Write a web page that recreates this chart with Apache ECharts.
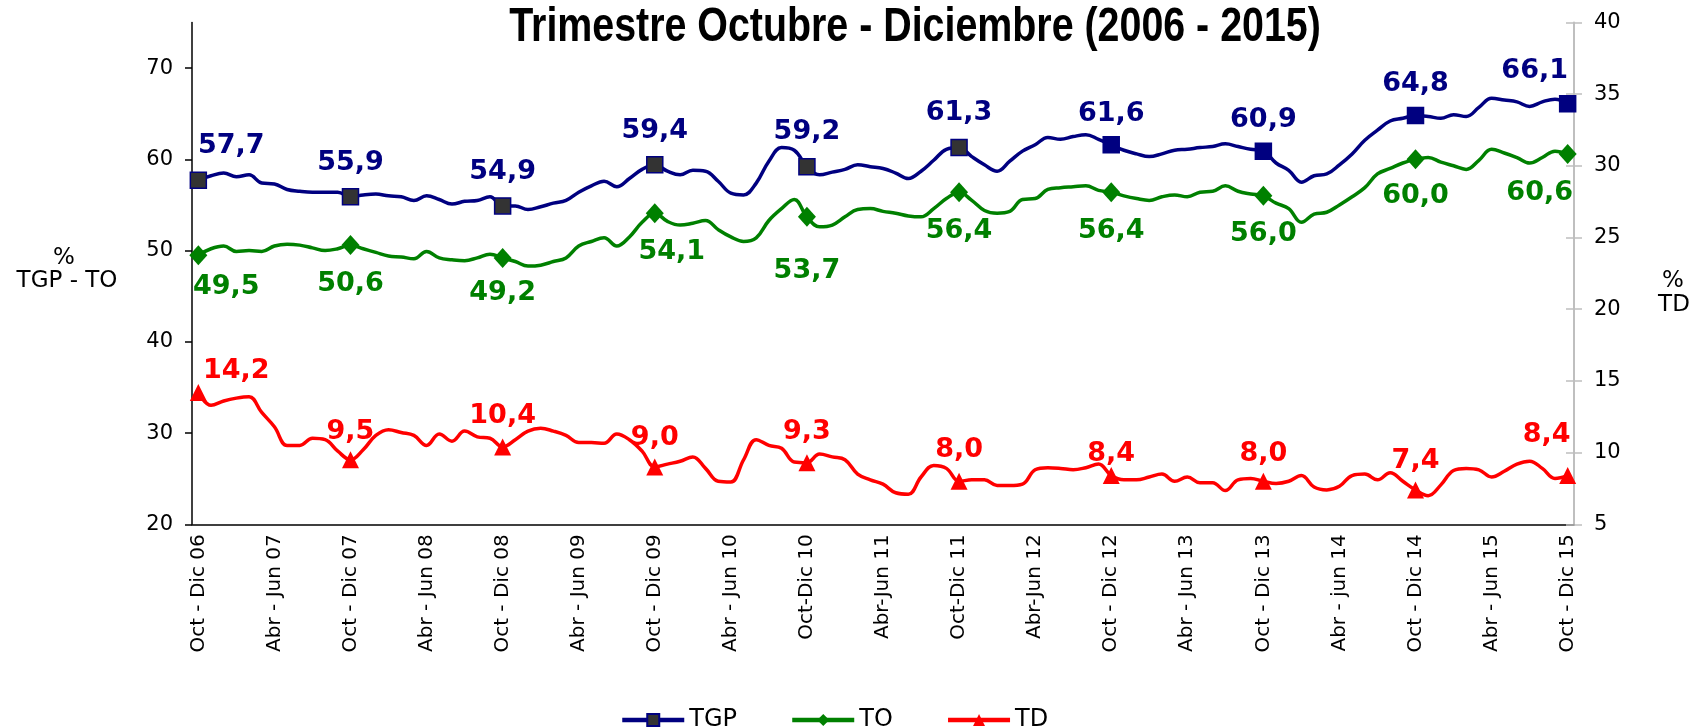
<!DOCTYPE html>
<html><head><meta charset="utf-8">
<script src="https://cdn.jsdelivr.net/npm/echarts@6/dist/echarts.min.js"></script>
<style>html,body{margin:0;padding:0;background:#fff}#c{width:1691px;height:728px}</style>
</head><body><div id="c"></div>
<script>
// ---- data ----
const categories = [
"Oct - Dic 06","Nov - Ene 07","Dic - Feb 07","Ene - Mar 07","Feb - Abr 07","Mar - May 07","Abr - Jun 07","May - Jul 07","Jun - Ago 07","Jul - Sep 07","Ago - Oct 07","Sep - Nov 07",
"Oct - Dic 07","Nov - Ene 08","Dic - Feb 08","Ene - Mar 08","Feb - Abr 08","Mar - May 08","Abr - Jun 08","May - Jul 08","Jun - Ago 08","Jul - Sep 08","Ago - Oct 08","Sep - Nov 08",
"Oct - Dic 08","Nov - Ene 09","Dic - Feb 09","Ene - Mar 09","Feb - Abr 09","Mar - May 09","Abr - Jun 09","May - Jul 09","Jun - Ago 09","Jul - Sep 09","Ago - Oct 09","Sep - Nov 09",
"Oct - Dic 09","Nov - Ene 10","Dic - Feb 10","Ene - Mar 10","Feb - Abr 10","Mar - May 10","Abr - Jun 10","May - Jul 10","Jun - Ago 10","Jul - Sep 10","Ago - Oct 10","Sep - Nov 10",
"Oct-Dic 10","Nov-Ene 11","Dic-Feb 11","Ene-Mar 11","Feb-Abr 11","Mar-May 11","Abr-Jun 11","May-Jul 11","Jun-Ago 11","Jul-Sep 11","Ago-Oct 11","Sep-Nov 11",
"Oct-Dic 11","Nov-Ene 12","Dic-Feb 12","Ene-Mar 12","Feb-Abr 12","Mar-May 12","Abr-Jun 12","May-Jul 12","Jun-Ago 12","Jul-Sep 12","Ago-Oct 12","Sep-Nov 12",
"Oct - Dic 12","Nov - Ene 13","Dic - Feb 13","Ene - Mar 13","Feb - Abr 13","Mar - May 13","Abr - Jun 13","May - Jul 13","Jun - Ago 13","Jul - Sep 13","Ago - Oct 13","Sep - Nov 13",
"Oct - Dic 13","Nov - Ene 14","Dic - Feb 14","Ene - Mar 14","Feb - Abr 14","Mar - May 14","Abr - jun 14","May - Jul 14","Jun - Ago 14","Jul - Sep 14","Ago - Oct 14","Sep - Nov 14",
"Oct - Dic 14","Nov - Ene 15","Dic - Feb 15","Ene - Mar 15","Feb - Abr 15","Mar - May 15","Abr - Jun 15","May - Jul 15","Jun - Ago 15","Jul - Sep 15","Ago - Oct 15","Sep - Nov 15",
"Oct - Dic 15"
];
const tgp = [
57.7,58.2,58.5,58.1,58.3,57.4,57.3,56.7,56.5,56.4,56.4,56.4,
55.9,56.1,56.2,56.0,55.9,55.5,56.0,55.6,55.1,55.4,55.5,55.9,
54.9,54.9,54.5,54.8,55.2,55.5,56.4,57.1,57.6,57.0,57.9,58.9,
59.4,58.7,58.3,58.8,58.7,57.6,56.3,56.1,57.4,59.8,61.3,61.0,
59.2,58.3,58.6,58.9,59.4,59.2,59.0,58.5,57.9,58.7,59.9,61.1,
61.3,60.3,59.4,58.7,59.8,60.9,61.6,62.4,62.2,62.5,62.7,62.2,
61.6,61.0,60.6,60.3,60.6,61.0,61.1,61.3,61.4,61.7,61.4,61.1,
60.9,59.6,58.8,57.5,58.2,58.4,59.4,60.6,62.1,63.2,64.2,64.5,
64.8,64.7,64.5,64.9,64.7,65.7,66.7,66.5,66.3,65.8,66.3,66.6,
66.1
];
const to = [
49.5,50.2,50.5,49.9,50.0,49.9,50.5,50.7,50.6,50.3,50.0,50.2,
50.6,50.2,49.8,49.4,49.3,49.1,49.9,49.2,49.0,48.9,49.2,49.6,
49.2,48.8,48.3,48.4,48.8,49.2,50.5,51.0,51.4,50.5,51.5,53.1,
54.1,53.2,52.8,53.0,53.3,52.3,51.5,51.0,51.4,53.3,54.6,55.6,
53.7,52.6,52.8,53.7,54.5,54.6,54.3,54.1,53.8,53.7,54.6,55.7,
56.4,55.5,54.4,54.1,54.3,55.6,55.7,56.7,56.9,57.0,57.1,56.6,
56.4,56.0,55.7,55.5,55.9,56.1,55.9,56.4,56.5,57.1,56.5,56.2,
56.0,55.2,54.6,53.1,54.0,54.2,55.0,55.9,56.9,58.4,59.0,59.6,
60.0,60.2,59.7,59.3,58.9,59.9,61.1,60.7,60.2,59.6,60.2,60.9,
60.6
];
const td = [
14.2,13.3,13.6,13.8,13.9,12.8,11.8,10.5,10.5,11.0,10.9,10.1,
9.5,10.2,11.2,11.6,11.4,11.2,10.5,11.3,10.8,11.5,11.1,11.0,
10.4,10.9,11.5,11.7,11.5,11.2,10.7,10.7,10.65,11.3,10.9,10.1,
9.0,9.2,9.4,9.7,8.9,8.0,7.95,9.5,10.9,10.5,10.3,9.35,
9.3,9.9,9.7,9.5,8.5,8.1,7.8,7.2,7.1,8.3,9.1,8.9,
8.0,8.1,8.1,7.7,7.7,7.8,8.8,8.95,8.9,8.8,8.95,9.2,
8.4,8.1,8.1,8.3,8.5,8.0,8.3,7.9,7.9,7.35,8.1,8.2,
8.0,7.85,8.0,8.4,7.6,7.4,7.65,8.4,8.5,8.1,8.6,8.0,
7.4,7.0,7.75,8.75,8.9,8.8,8.3,8.7,9.2,9.4,8.9,8.2,
8.4
];
const markerIdx = [0,12,24,36,48,60,72,84,96,108];
const leftTicks = [20,30,40,50,60,70];
const seriesNames = ['TGP','TO','TD'];
const titleText = 'Trimestre Octubre - Diciembre (2006 - 2015)';

// ---- presentation ----
const FONT = 'DejaVu Sans';
const fmt = p => p.value.toFixed(1).replace('.', ',');
function build(values, cfg) {
  return values.map((v, i) => {
    if (markerIdx.indexOf(i) < 0) return { value: v, symbol: 'none' };
    const item = {
      value: v,
      label: { show: true, formatter: fmt, fontFamily: FONT, fontWeight: 'bold',
        fontSize: 27, color: cfg.color, position: cfg.pos, distance: cfg.dist,
        offset: cfg.offsets[i] || [0, 0] }
    };
    if (cfg.itemStyleFor) item.itemStyle = cfg.itemStyleFor(i);
    return item;
  });
}
const tgpData = build(tgp, { color: '#000080', pos: 'top', dist: 12,
  offsets: { 0: [33, 0], 72: [0, 3], 84: [0, 3], 96: [0, 3], 108: [-33, 2] },
  itemStyleFor: i => i >= 72 ? { color: '#000080' } : { color: '#333333' } });
const toData = build(to, { color: '#008000', pos: 'bottom', dist: 15,
  offsets: { 0: [28, -7], 24: [0, -3], 36: [17, 0], 48: [0, 16], 72: [0, 0], 84: [0, 0], 96: [0, -2], 108: [-28, 1] } });
const tdData = build(td, { color: '#FF0000', pos: 'top', dist: 9,
  offsets: { 0: [38, 10], 12: [0, 3], 36: [0, 2], 72: [0, 9], 84: [0, 4], 96: [0, 2], 108: [-21, -10] } });

const chart = echarts.init(document.getElementById('c'), null, { renderer: 'canvas' });
chart.setOption({
  animation: false,
  backgroundColor: '#fff',
  legend: {
    data: seriesNames, left: 615, top: 703, itemWidth: 62, itemHeight: 15, itemGap: 53,
    lineStyle: { width: 4.5 },
    textStyle: { fontFamily: FONT, fontSize: 24, color: '#000' }
  },
  grid: { left: 192, right: 117, top: 22.5, bottom: 203.7, containLabel: false },
  xAxis: {
    type: 'category', data: categories, boundaryGap: true,
    axisLine: { lineStyle: { color: '#000', width: 1.5 } },
    axisTick: { interval: 7, length: 7, lineStyle: { color: '#000', width: 1.5 } },
    axisLabel: { interval: 5, rotate: 90, fontFamily: FONT, fontSize: 20, color: '#000', margin: 10 },
    splitLine: { show: false }
  },
  yAxis: [
    { type: 'value', min: 20, max: 75, interval: 10, position: 'left',
      axisLine: { show: true, lineStyle: { color: '#000', width: 1.5 } },
      axisTick: { show: true, length: 7, customValues: leftTicks, lineStyle: { color: '#000', width: 1.5 } },
      axisLabel: { customValues: leftTicks, fontFamily: FONT, fontSize: 21, color: '#000', margin: 19 },
      splitLine: { show: false } },
    { type: 'value', min: 5, max: 40, interval: 5, position: 'right',
      axisLine: { show: true, lineStyle: { color: '#BFBFBF', width: 2 } },
      axisTick: { show: true, length: 8, lineStyle: { color: '#BFBFBF', width: 1.5 } },
      axisLabel: { fontFamily: FONT, fontSize: 21, color: '#000', margin: 20 },
      splitLine: { show: false } },
    { type: 'value', min: 5, max: 40, interval: 5, position: 'right',
      axisLine: { show: false },
      axisTick: { show: true, inside: true, length: 8, lineStyle: { color: '#BFBFBF', width: 1.5 } },
      axisLabel: { show: false }, splitLine: { show: false } }
  ],
  graphic: [
    { type: 'text', x: 915, y: 28, scaleX: 0.82, z: 10,
      style: { text: titleText, fontFamily: 'Liberation Sans', fontWeight: 'bold', fontSize: 48, fill: '#000', align: 'center', verticalAlign: 'middle' } },
    { type: 'text', x: 64, y: 258, style: { text: '%', fontFamily: FONT, fontSize: 23, fill: '#000', align: 'center', verticalAlign: 'middle' } },
    { type: 'text', x: 67, y: 281, style: { text: 'TGP - TO', fontFamily: FONT, fontSize: 23, fill: '#000', align: 'center', verticalAlign: 'middle' } },
    { type: 'text', x: 1673, y: 281, style: { text: '%', fontFamily: FONT, fontSize: 23, fill: '#000', align: 'center', verticalAlign: 'middle' } },
    { type: 'text', x: 1674, y: 305, style: { text: 'TD', fontFamily: FONT, fontSize: 23, fill: '#000', align: 'center', verticalAlign: 'middle' } }
  ],
  series: [
    { name: 'TGP', type: 'line', yAxisIndex: 0, data: tgpData, smooth: 0.4,
      symbol: 'rect', symbolSize: 16, showSymbol: true,
      lineStyle: { color: '#000080', width: 3.5 },
      itemStyle: { color: '#333333', borderColor: '#000080', borderWidth: 1.5 },
      emphasis: { disabled: true }, z: 3 },
    { name: 'TO', type: 'line', yAxisIndex: 0, data: toData, smooth: 0.4,
      symbol: 'diamond', symbolSize: [18, 20], showSymbol: true,
      lineStyle: { color: '#008000', width: 3.5 },
      itemStyle: { color: '#008000' },
      emphasis: { disabled: true }, z: 3 },
    { name: 'TD', type: 'line', yAxisIndex: 1, data: tdData, smooth: 0.4,
      symbol: 'triangle', symbolSize: 17, showSymbol: true,
      lineStyle: { color: '#FF0000', width: 3.5 },
      itemStyle: { color: '#FF0000' },
      emphasis: { disabled: true }, z: 3 }
  ]
});
</script>
</body></html>
